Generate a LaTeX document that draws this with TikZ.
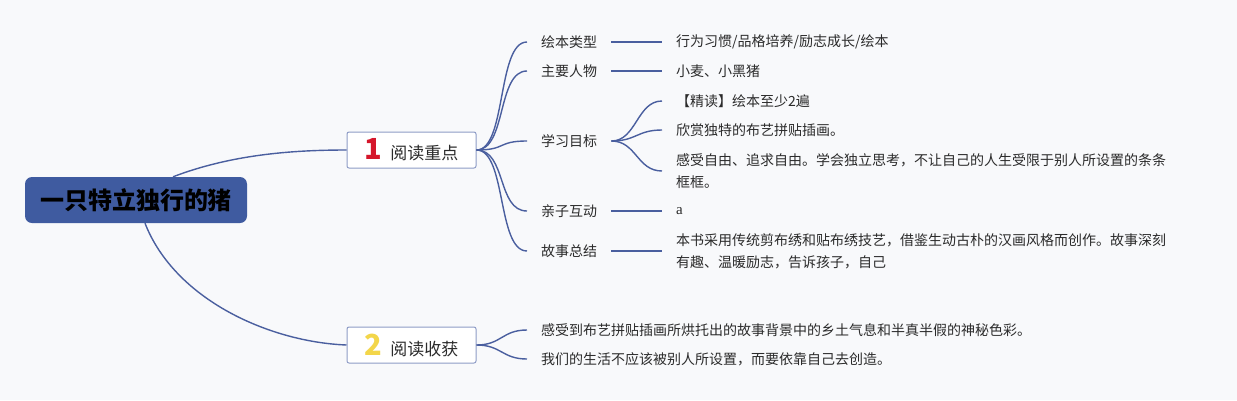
\documentclass[tikz,border=0pt]{standalone}
\usepackage{fontspec}
\usetikzlibrary{arrows.meta, positioning}
\newfontfamily\cjk{Noto Sans CJK SC}
\newfontfamily\latinserif{Liberation Serif}
\usepackage{xcolor}
\definecolor{bgpaper}{HTML}{F8F9FB}
\definecolor{linkblue}{HTML}{4A5F9F}
\definecolor{rootblue}{HTML}{3F5BA0}
\definecolor{boxedge}{HTML}{8E9CC6}
\definecolor{inkgray}{HTML}{2B2B2B}
\definecolor{numred}{HTML}{D5162B}
\definecolor{numyellow}{HTML}{F3D64A}

\begin{document}
\begin{tikzpicture}[x=1pt, y=-1pt,
    link/.style={linkblue, line width=1.4pt},
    rootbox/.style={fill=rootblue, rounded corners=7pt, minimum width=222pt,
      minimum height=46pt, text=black,
      font=\cjk\bfseries\fontsize{24pt}{27pt}\selectfont},
    topicbox/.style={fill=white, draw=boxedge, line width=1pt, rounded corners=2pt,
      minimum width=129pt, minimum height=36pt, text=inkgray,
      font=\cjk\fontsize{17pt}{20pt}\selectfont},
    lbl/.style={anchor=west, inner xsep=14pt, inner ysep=2pt, text=inkgray,
      align=left, font=\cjk\fontsize{14pt}{22pt}\selectfont}]
  % paper
  \fill[bgpaper] (0,0) rectangle (1237,400);

  % root and the two topics
  \node[rootbox] (root) at (136,200) {一只特立独行的猪};
  \node[topicbox] (yd) at (411.5,150)
    {\textcolor{numred}{\bfseries\fontsize{29pt}{29pt}\selectfont 1}\hspace{8pt}阅读重点};
  \node[topicbox] (sh) at (411.5,345)
    {\textcolor{numyellow}{\bfseries\fontsize{29pt}{29pt}\selectfont 2}\hspace{8pt}阅读收获};
  \draw[link] ([xshift=37pt]root.north) .. controls (230,155) and (290,150) .. (yd.west);
  \draw[link] ([xshift=9pt]root.south) .. controls (175,300) and (270,342) .. (sh.west);

  % reading focus
  \foreach \n/\y/\t in {lx/42/绘本类型, rw/71/主要人物, mb/141/学习目标,
                        hd/211/亲子互动, zj/251/故事总结} {
    \node[lbl] (\n) at (527,\y) {\t};
    \draw[link] (yd.east) .. controls +(30,0) and +(-30,0) .. (\n.west);
  }
  \node[lbl] (lxv) at (662,42) {行为习惯/品格培养/励志成长/绘本};
  \node[lbl] (rwv) at (662,71) {小麦、小黑猪};
  \node[lbl] (mb1) at (662,101) {【精读】绘本至少2遍};
  \node[lbl] (mb2) at (662,130) {欣赏独特的布艺拼贴插画。};
  \node[lbl] (mb3) at (662,171)
    {感受自由、追求自由。学会独立思考，不让自己的人生受限于别人所设置的条条\\框框。};
  \node[lbl] (hdv) at (662,211) {\latinserif\fontsize{15pt}{18pt}\selectfont a};
  \node[lbl] (zjv) at (662,251)
    {本书采用传统剪布绣和贴布绣技艺，借鉴生动古朴的汉画风格而创作。故事深刻\\有趣、温暖励志，告诉孩子，自己};
  \foreach \a/\b in {lx/lxv, rw/rwv, hd/hdv, zj/zjv}
    \draw[link] (\a.east) -- (\a.east -| \b.west);
  \foreach \b in {mb1, mb2, mb3}
    \draw[link] (mb.east) .. controls +(25,0) and +(-25,0) .. (\b.west);

  % reading gains
  \node[lbl] (sh1) at (527,330) {感受到布艺拼贴插画所烘托出的故事背景中的乡土气息和半真半假的神秘色彩。};
  \node[lbl] (sh2) at (527,359) {我们的生活不应该被别人所设置，而要依靠自己去创造。};
  \foreach \b in {sh1, sh2}
    \draw[link] (sh.east) .. controls +(25,0) and +(-25,0) .. (\b.west);

\end{tikzpicture}
\end{document}
